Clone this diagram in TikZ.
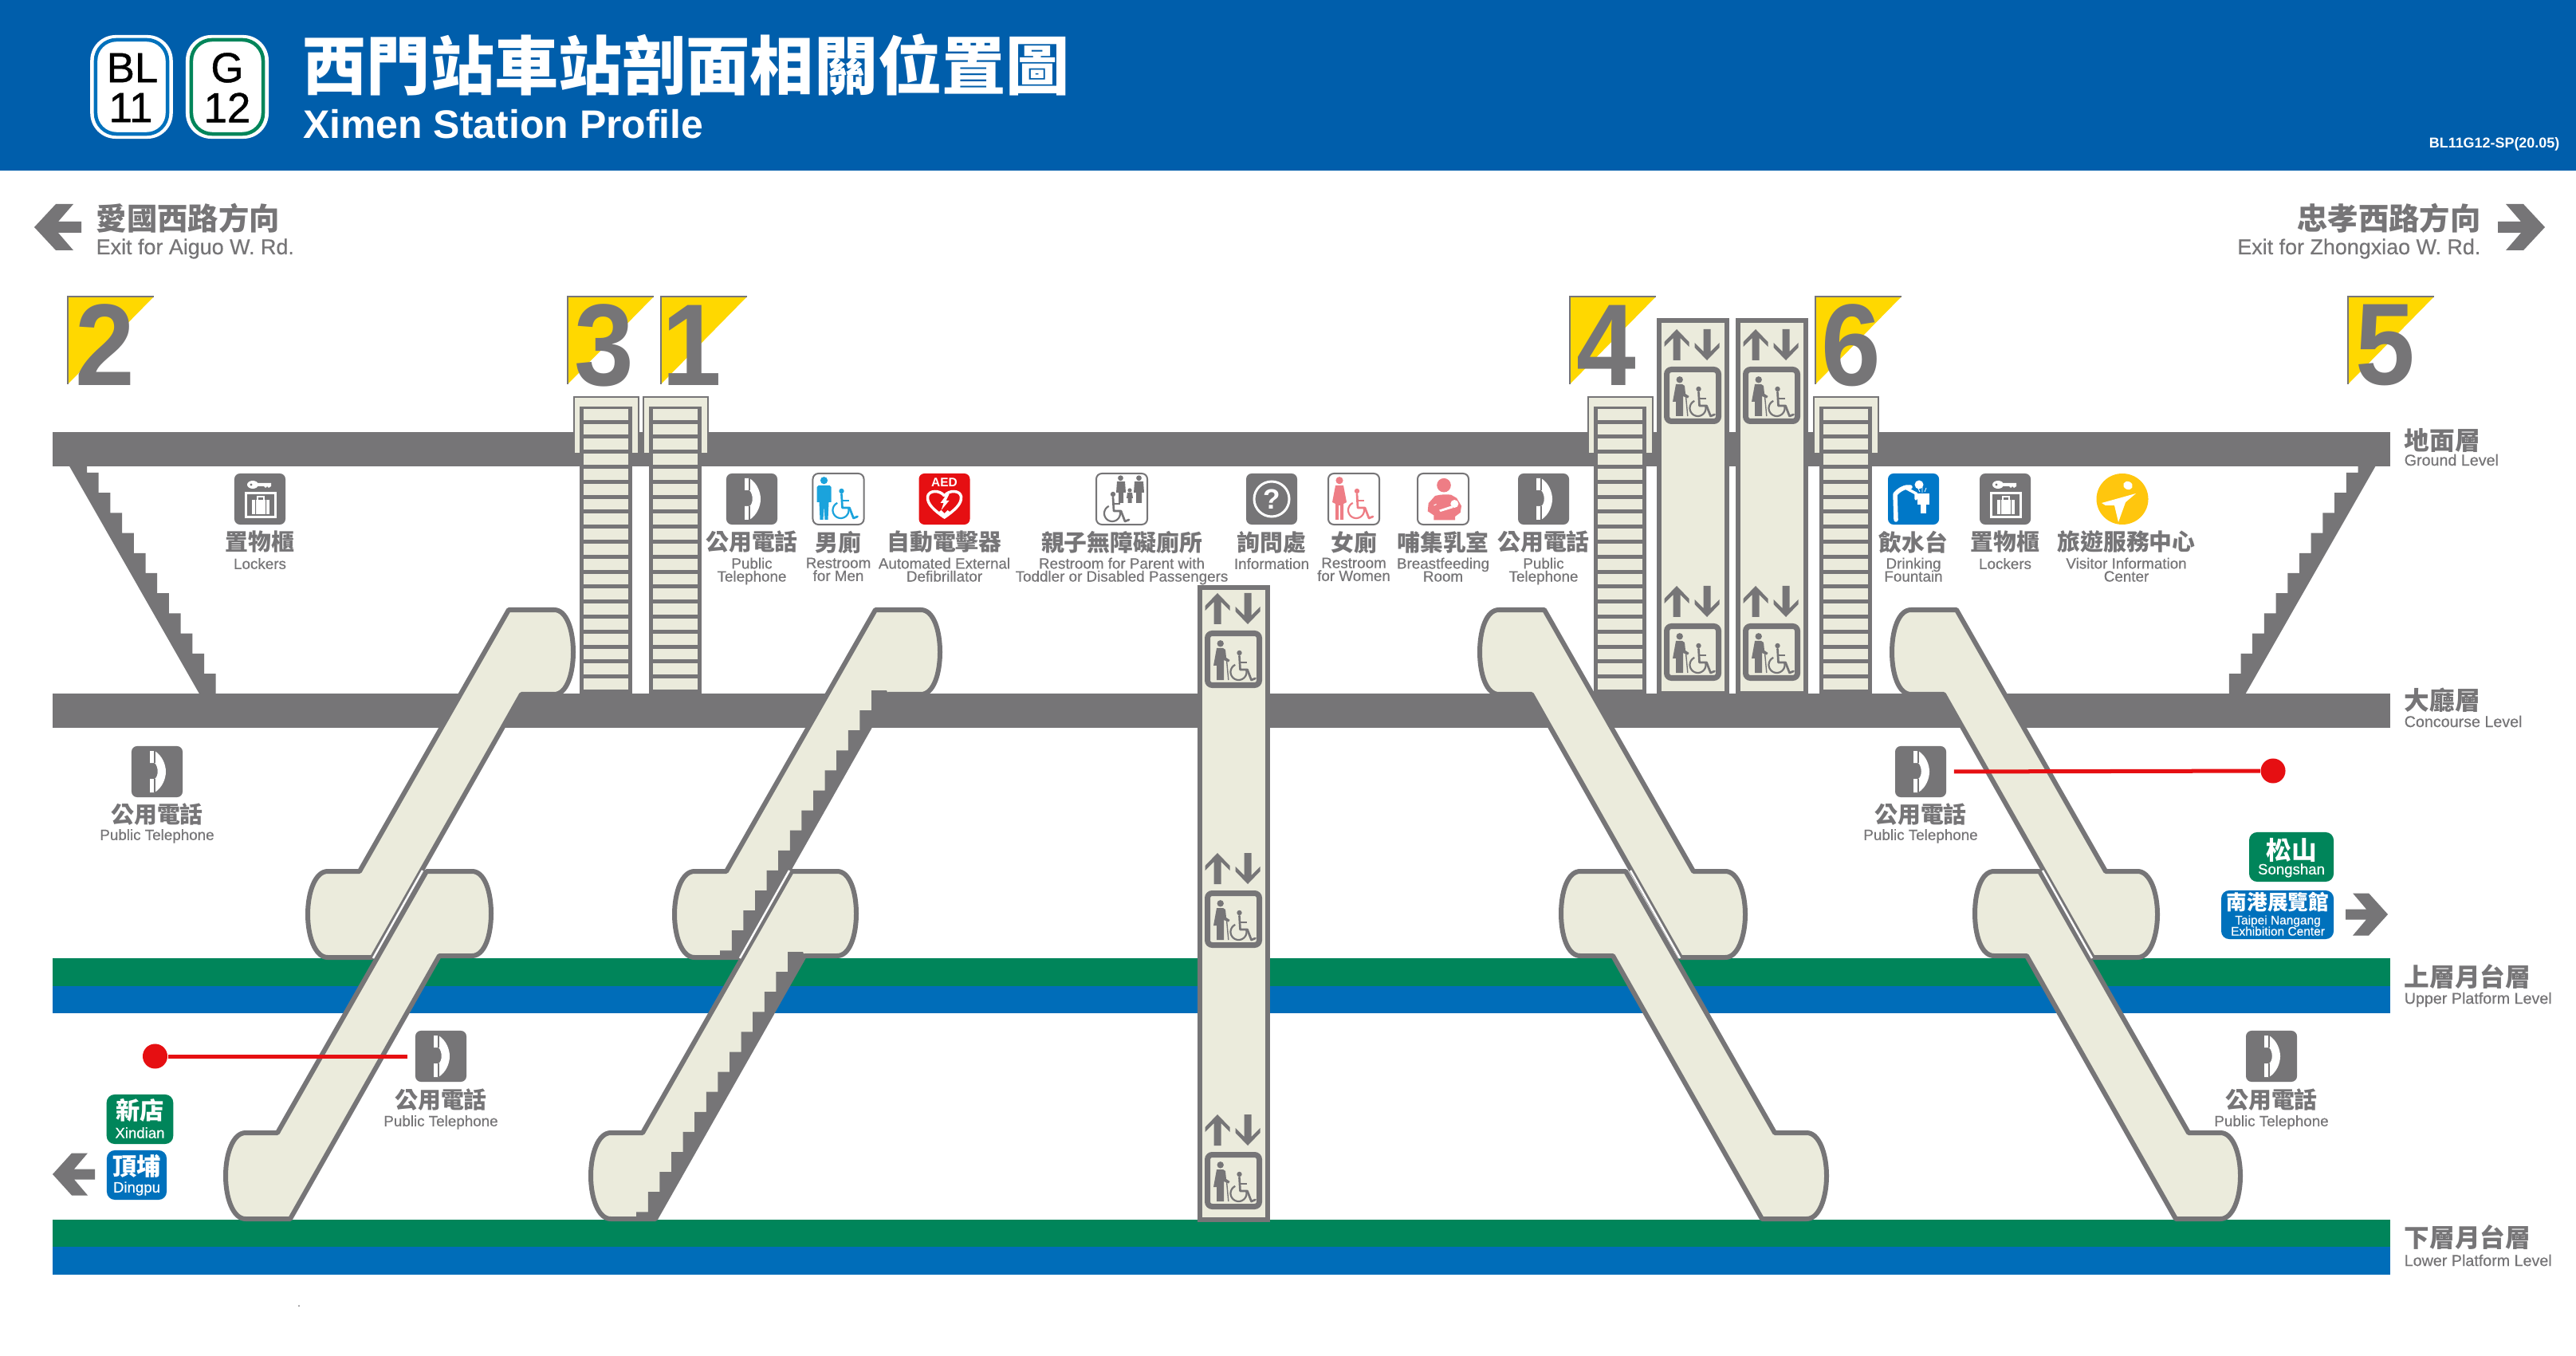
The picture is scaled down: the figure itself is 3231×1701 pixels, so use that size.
\documentclass[tikz,border=0pt]{standalone}
\usepackage{fontspec}
\setmainfont{Liberation Sans}
\newfontfamily\zhf{Noto Sans CJK TC}
\newfontfamily\enf[FakeBold=0.4]{Liberation Sans}
\newfontfamily\numf[FakeStretch=0.92]{Liberation Sans}
\newfontfamily\badgef[FakeBold=0.8]{Liberation Sans}
\definecolor{gr}{HTML}{767577}
\definecolor{cream}{HTML}{EBEBDC}
\definecolor{hblue}{HTML}{005EAB}
\definecolor{lblue}{HTML}{006DB9}
\definecolor{lgreen}{HTML}{00855A}
\definecolor{tblue}{HTML}{0071BC}
\definecolor{flagy}{HTML}{FFD800}
\definecolor{rd}{HTML}{E60F12}
\definecolor{mblue}{HTML}{1BA3DC}
\definecolor{pinkw}{HTML}{EE7D85}
\definecolor{fblue}{HTML}{0078C8}
\definecolor{vyel}{HTML}{FFC60E}
\newcommand{\wheelie}{%
  \fill (1,-24) circle[radius=3.2];
  \draw[line width=.027cm,line cap=round,line join=round] (1,-20) -- (2,-3) -- (11,-3) -- (16,10) -- (21,8);
  \draw[line width=.027cm] (1.5,-12) -- (10,-12);
  \draw[line width=.022cm] plot[smooth,samples=30,domain=-115:-375] ({10*cos(\x)},{10*sin(\x)});
}
\tikzset{
  x=.01cm,y=-.01cm,
  en/.style={font=\enf\fontsize{5.35}{4.6}\selectfont,text=gr,align=center,anchor=north,inner sep=0pt,execute at begin node={\rule{0pt}{4pt}}},
  zh/.style={font=\zhf\bfseries\fontsize{8.2}{9}\selectfont,text=gr,inner sep=0pt},
  lvz/.style={font=\zhf\bfseries\fontsize{9}{10}\selectfont,text=gr,inner sep=0pt,anchor=west},
  lve/.style={font=\enf\fontsize{5.6}{6}\selectfont,text=gr,inner sep=0pt,anchor=west},
  box/.style={minimum size=.64cm,inner sep=0pt,rounded corners=.07cm},
  dark/.style={box,fill=gr},
  pale/.style={box,fill=white,draw=gr,line width=.02cm},
  flagnum/.style={font=\numf\bfseries\fontsize{41.5}{41}\selectfont,text=gr,inner sep=0pt},
  tag/.style={inner sep=0pt,rounded corners=.1cm},
  tagz/.style={font=\zhf\bfseries\fontsize{8.2}{9}\selectfont,text=white,inner sep=0pt},
  tage/.style={font=\enf\fontsize{5.3}{5.3}\selectfont,text=white,inner sep=0pt},
  redl/.style={draw=rd,line width=.05cm},
  reddot/.style={circle,fill=rd,minimum size=.31cm,inner sep=0pt},
  escs/.style={fill=cream,draw=gr,line width=.06cm,line join=round},
  hood/.style={fill=cream,draw=gr,line width=.015cm},
  escband/.pic={
    \path[escs] (24,0) -- (81,0) -- (268,328) -- (308,328) .. controls (324,328) and (333,355) .. (333,382) .. controls (333,409) and (324,436) .. (308,436) -- (252,436) -- (65,106) -- (24,106) .. controls (8,106) and (0,80) .. (0,53) .. controls (0,26) and (8,0) .. (24,0) -- cycle;
  },
  escsteps/.pic={
    \fill[gr] (67,101) -- (86,101) \foreach \i in {1,...,13} { -- ++(0,25.1) -- ++(14.6,0) } -- (276,436) -- (252,436) -- (65,106) -- cycle;
  },
  escgap/.pic={
    \draw[white,line width=.025cm] (189,327) -- (251,437);
  },
  flag/.pic={
    \fill[flagy] (0,0) -- (108,0) -- (0,110) -- cycle;
    \draw[gr,line width=.018cm] (108,0) -- (0,0) -- (0,110);
  },
  ladder/.pic={
    \fill[gr] (0,0) rectangle (66,360);
    \foreach \k in {0,...,18} { \fill[cream] (5,{355-18.8*\k}) rectangle (61,{341.2-18.8*\k}); }
  },
  chevron/.pic={
    \fill[gr] (0,0) -- (-27,-29) -- (-49,-29) -- (-30,-7) -- (-59,-7) -- (-59,7) -- (-30,7) -- (-49,29) -- (-27,29) -- cycle;
  },
  chevronsmall/.pic={
    \fill[gr] (0,0) -- (-24,-26.5) -- (-44,-26.5) -- (-27,-6.5) -- (-53,-6.5) -- (-53,6.5) -- (-27,6.5) -- (-44,26.5) -- (-24,26.5) -- cycle;
  },
  liftsign/.pic={
    \fill[gr] (16,-47) -- (31.5,-31) -- (31.5,-25) -- (20.5,-36) -- (20.5,-8) -- (11.5,-8) -- (11.5,-36) -- (.5,-25) -- (.5,-31) -- cycle;
    \fill[gr] (54,-8) -- (69.5,-24) -- (69.5,-30) -- (58.5,-19) -- (58.5,-47) -- (49.5,-47) -- (49.5,-19) -- (38.5,-30) -- (38.5,-24) -- cycle;
    \draw[gr,line width=.07cm,rounded corners=.06cm] (3.5,3.5) rectangle (68.5,68.5);
    \fill[gr] (19.7,16.3) circle[radius=4.2];
    \fill[gr] (15,22) -- (23,22) -- (26,24) -- (27,34) -- (31.5,37) -- (30,39.5) -- (24,37) -- (24,62) -- (15,62) -- (15,44) -- (11,44) -- cycle;
    \draw[gr,line width=.014cm] (27.5,37) -- (29.8,62);
    \begin{scope}[shift={(42.5,52)},gr]\wheelie\end{scope}
  },
  telglyph/.pic={
    \fill[white] (-9,-26) -- (-3,-26) .. controls (7,-20) and (11,-8) .. (11,0) .. controls (11,8) and (7,20) .. (-3,26) -- (-9,26) -- (-9,9) -- (-3,9) .. controls (2,6) and (2,-6) .. (-3,-11) -- (-9,-11) -- cycle;
    \draw[gr,line width=.012cm] (-3,-26) -- (-3,-11) (-3,9) -- (-3,26);
  },
  lockerglyph/.pic={
    \fill[white] (-9,-18) ellipse[x radius=7,y radius=5];
    \fill[white] (-4,-20) -- (14,-20) -- (14,-16) -- (11,-14) -- (9,-16) -- (7,-14) -- (5,-16) -- (-4,-16) -- cycle;
    \fill[gr] (-11,-18) circle[radius=1.6];
    \draw[white,line width=.03cm] (-17.5,-7.5) rectangle (19,22.5);
    \fill[white] (-10,1) rectangle (12,19);
    \draw[white,line width=.012cm] (-3,1) -- (-3,-3) -- (5,-3) -- (5,1);
    \fill[gr] (-6,1) rectangle (-5,19) (7,1) rectangle (8,19);
  },
  manglyph/.pic={
    \fill[#1] (-18,-23.3) circle[radius=4.6];
    \fill[#1] (-25,-17) -- (-11,-17) -- (-9,-15) -- (-9,4) -- (-12,4) -- (-13,26) -- (-17,26) -- (-18,8) -- (-19,26) -- (-23,26) -- (-24,4) -- (-27,4) -- (-27,-15) -- cycle;
    \begin{scope}[shift={(3,14)},#1]\wheelie\end{scope}
  },
  womanglyph/.pic={
    \fill[#1] (-18,-23.3) circle[radius=4.6];
    \fill[#1] (-23,-17) -- (-13,-17) -- (-9,4) -- (-13,6) -- (-13,26) -- (-17,26) -- (-17,8) -- (-19,8) -- (-19,26) -- (-23,26) -- (-23,6) -- (-27,4) -- cycle;
    \begin{scope}[shift={(3,14)},#1]\wheelie\end{scope}
  },
  familyglyph/.pic={
    \fill[gr] (-1.5,-26.3) circle[radius=3.4] (21.5,-26.3) circle[radius=3.4] (10,-11) circle[radius=2.6];
    \fill[gr] (-6,-22) -- (4,-22) -- (5,-8) -- (2,-8) -- (2,5) -- (-4,5) -- (-4,-8) -- (-7,-8) -- cycle;
    \fill[gr] (16,-22) -- (27,-22) -- (28,-8) -- (25,-8) -- (25,5) -- (18,5) -- (18,-8) -- (15,-8) -- cycle;
    \fill[gr] (7,-8) -- (13,-8) -- (14,-1) -- (12.5,-1) -- (12.5,5) -- (7.5,5) -- (7.5,-1) -- (6,-1) -- cycle;
    \begin{scope}[shift={(-12,18)},gr]\wheelie\end{scope}
  },
  infoglyph/.pic={
    \draw[white,line width=.03cm] (0,0) circle[radius=22];
    \node[font=\bfseries\fontsize{10}{10}\selectfont,text=white,inner sep=0pt] (infoq) at (0,0) {?};
  },
  nurseglyph/.pic={
    \fill[pinkw] (1,-17.3) circle[radius=8.8];
    \fill[pinkw] (-10,-4) .. controls (-3,-6) and (5,-6) .. (10,-5.3) -- (17,-1.3) -- (23,8.7) -- (21.7,17) -- (15,22) -- (15,26.3) -- (-11.7,26.3) -- (-11.7,20.3) -- (-19.3,15.3) -- (-18.3,5.3) -- cycle;
    \fill[white] (14.3,6) circle[radius=5];
    \fill[white] (-5,13.7) -- (10,8.7) -- (13,11) -- (-3.3,16) -- cycle;
    \draw[white,line width=.01cm] (-11.5,8) -- (-8.5,6.5);
  },
  aedglyph/.pic={
    \node[font=\bfseries\fontsize{4.4}{4.4}\selectfont,text=white,inner sep=0pt] (aedt) at (0,-20.5) {AED};
    \draw[white,line width=.035cm,line join=round] (0,23) .. controls (-13,14) and (-22,6) .. (-21,-3) .. controls (-20,-11) and (-6,-12) .. (0,-4) .. controls (6,-12) and (20,-11) .. (21,-3) .. controls (22,6) and (13,14) .. (0,23) -- cycle;
    \fill[white] (3,-6) -- (-5,5) -- (-1,5) -- (-4,14) -- (6,2) -- (2,2) -- (6,-6) -- cycle;
    \fill[white] (-8,17) -- (0,25) -- (8,17) -- (4,14) -- (0,18) -- (-4,14) -- cycle;
  },
  fountainglyph/.pic={
    \draw[white,line width=.055cm,line cap=round,line join=round] (-22,26) -- (-23,-6) .. controls (-18,-12) and (-10,-16) .. (-4,-15);
    \fill[white] (7,-18) circle[radius=5.5];
    \draw[white,line width=.035cm,line cap=round] (-10,-14) -- (3,-7) -- (3,0);
    \fill[white] (5,-7) rectangle (20,7);
    \fill[white] (9,7) rectangle (16,18);
    \draw[white,line width=.008cm] (11,-8) -- (11,-15) (8,-9) -- (6,-13) (14,-9) -- (16,-14);
  },
  visitorglyph/.pic={
    \fill[vyel] (0,0) ellipse[x radius=32.5,y radius=32];
    \fill[white,rotate around={-25:(7,-17)}] (7,-17) ellipse[x radius=6,y radius=5];
    \fill[white] (-26,5) -- (17,-7) -- (4,4) -- (-5,29) -- (-10,8) -- (-21,8) -- cycle;
  },
}
\begin{document}
\begin{tikzpicture}
\lineskiplimit=-5pt\relax
\useasboundingbox (0,0) rectangle (3231,1701);
\fill[white] (0,0) rectangle (3231,1701);
% header
\fill[hblue] (0,0) rectangle (3231,214);
\node[minimum width=1.035cm,minimum height=1.30cm,rounded corners=.32cm,fill=white,inner sep=0pt] (bo) at (165,109) {};
\node[minimum width=.90cm,minimum height=1.18cm,rounded corners=.26cm,fill=white,draw=tblue,line width=.045cm,inner sep=0pt] (bi) at (165,109) {};
\node[minimum width=1.04cm,minimum height=1.30cm,rounded corners=.32cm,fill=white,inner sep=0pt] (go) at (285,109) {};
\node[minimum width=.90cm,minimum height=1.18cm,rounded corners=.26cm,fill=white,draw=lgreen,line width=.045cm,inner sep=0pt] (gi) at (285,109) {};
\node[font=\badgef\fontsize{15}{15}\selectfont,inner sep=0pt] (bl) at (166,85) {BL};
\node[font=\badgef\fontsize{15}{15}\selectfont,inner sep=0pt] (bln) at (164,135) {11};
\node[font=\badgef\fontsize{15}{15}\selectfont,inner sep=0pt] (g) at (285,85) {G};
\node[font=\badgef\fontsize{15}{15}\selectfont,inner sep=0pt] (gn) at (285,135) {12};
\node[font=\zhf\bfseries\fontsize{22.8}{23}\selectfont,text=white,anchor=west,inner sep=0pt] (title) at (379,81) {西門站車站剖面相關位置圖};
\node[font=\bfseries\fontsize{14.2}{14.3}\selectfont,text=white,anchor=base west,inner sep=0pt] (titleen) at (379.5,174) {Ximen Station Profile};
\node[font=\bfseries\fontsize{5.1}{5.1}\selectfont,text=white,anchor=east,inner sep=0pt] (code) at (3211,181) {BL11G12-SP(20.05)};
% direction labels
\pic[xscale=-1] at (43,285) {chevron};
\node[font=\zhf\bfseries\fontsize{10.9}{12}\selectfont,text=gr,anchor=west,inner sep=0pt] (dirl) at (120,274) {愛國西路方向};
\node[font=\enf\fontsize{7.65}{8}\selectfont,text=gr,anchor=base west,inner sep=0pt] (dirle) at (120,319) {Exit for Aiguo W. Rd.};
\pic at (3192,285) {chevron};
\node[font=\zhf\bfseries\fontsize{10.9}{12}\selectfont,text=gr,anchor=east,inner sep=0pt] (dirr) at (3112,274) {忠孝西路方向};
\node[font=\enf\fontsize{7.65}{8}\selectfont,text=gr,anchor=base east,inner sep=0pt] (dirre) at (3112,319) {Exit for Zhongxiao W. Rd.};
% level bars
\fill[gr] (66,542) rectangle (2998,585);
\fill[gr] (66,870) rectangle (2998,913);
\fill[lgreen] (66,1202) rectangle (2998,1236.5);
\fill[lblue] (66,1236.5) rectangle (2998,1270.5);
\fill[lgreen] (66,1530) rectangle (2998,1564);
\fill[lblue] (66,1564) rectangle (2998,1599);
% level labels
\node[lvz] (l1z) at (3015,552) {地面層};
\node[lve] (l1e) at (3015,577) {Ground Level};
\node[lvz] (l2z) at (3015,878) {大廳層};
\node[lve] (l2e) at (3015,905) {Concourse Level};
\node[lvz] (l3z) at (3015,1225) {上層月台層};
\node[lve] (l3e) at (3015,1254) {Upper Platform Level};
\node[lvz] (l4z) at (3015,1552) {下層月台層};
\node[lve] (l4e) at (3015,1581) {Lower Platform Level};
% end stairs
\fill[gr] (86,583) -- (109,583) -- (109,593) \foreach \i in {1,...,11} { -- ++(14.7,0) -- ++(0,25.2) } -- (251,872) -- cycle;
\fill[gr] (2980.5,583) -- (2957.5,583) -- (2957.5,593) \foreach \i in {1,...,11} { -- ++(-14.7,0) -- ++(0,25.2) } -- (2815.5,872) -- cycle;
% flags and numerals
\pic at (85,372) {flag};
\pic at (712,372) {flag};
\pic at (829,372) {flag};
\pic at (1969,372) {flag};
\pic at (2277,372) {flag};
\pic at (2945,372) {flag};
\node[flagnum] (n2) at (132,433) {2};
\node[flagnum] (n3) at (757.5,433) {3};
\node[flagnum] (n1) at (868,433) {1};
\node[flagnum] (n4) at (2015,433) {4};
\node[flagnum] (n6) at (2322,433) {6};
\node[flagnum] (n5) at (2992,433) {5};
% fixed stairs
\foreach \hx in {720,807,1992,2275} {
  \path[hood] (\hx,498) rectangle ({\hx+81},569);
}
\pic at (727,510) {ladder};
\pic at (814,510) {ladder};
\pic at (1999,510) {ladder};
\pic at (2282,510) {ladder};
% gate lifts
\draw[fill=cream,draw=gr,line width=.06cm] (2081,402) rectangle (2166,870);
\draw[fill=cream,draw=gr,line width=.06cm] (2180,402) rectangle (2265,870);
\pic at (2087,460) {liftsign};
\pic at (2087,782) {liftsign};
\pic at (2186,460) {liftsign};
\pic at (2186,782) {liftsign};
% escalators left-leaning
\pic[xscale=-1] at (719,765) {escband};
\pic[xscale=-1] at (616,1093) {escband};
\pic[xscale=-1] at (719,765) {escgap};
\pic[xscale=-1] at (1179,765) {escband};
\pic[xscale=-1] at (1179,765) {escsteps};
\pic[xscale=-1] at (1074,1093) {escband};
\pic[xscale=-1] at (1074,1093) {escsteps};
\pic[xscale=-1] at (1179,765) {escgap};
% escalators right-leaning
\pic at (1856,765) {escband};
\pic at (1958,1093) {escband};
\pic at (1856,765) {escgap};
\pic at (2373,765) {escband};
\pic at (2477,1093) {escband};
\pic at (2373,765) {escgap};
% centre lift
\draw[fill=cream,draw=gr,line width=.06cm] (1505,737) rectangle (1590,1530);
\pic at (1511,791) {liftsign};
\pic at (1511,1117) {liftsign};
\pic at (1511,1445) {liftsign};
% icons row
\node[dark] (lock1) at (326,626) {};
\pic at (lock1) {lockerglyph};
\node[zh] (lock1z) at (326,680) {置物櫃};
\node[en] (lock1e) at (326,699) {Lockers};
\node[dark] (tel1) at (943,626) {};
\pic at (tel1) {telglyph};
\node[zh] (tel1z) at (943,680) {公用電話};
\node[en] (tel1e) at (943,699) {Public\\Telephone};
\node[pale] (men) at (1051.5,626) {};
\pic at (men) {manglyph=mblue};
\node[zh] (menz) at (1051.5,680) {男廁};
\node[en] (mene) at (1051.5,699) {Restroom\\for Men};
\node[box,fill=rd] (aed) at (1184.5,626) {};
\pic at (aed) {aedglyph};
\node[zh] (aedz) at (1184.5,680) {自動電擊器};
\node[en] (aede) at (1184.5,699) {Automated External\\Defibrillator};
\node[pale] (fam) at (1407,626) {};
\pic at (fam) {familyglyph};
\node[zh] (famz) at (1407,680) {親子無障礙廁所};
\node[en] (fame) at (1407,699) {Restroom for Parent with\\Toddler or Disabled Passengers};
\node[dark] (info) at (1595,626) {};
\pic at (info) {infoglyph};
\node[zh] (infoz) at (1595,680) {詢問處};
\node[en] (infoe) at (1595,699) {Information};
\node[pale] (wom) at (1698,626) {};
\pic at (wom) {womanglyph=pinkw};
\node[zh] (womz) at (1698,680) {女廁};
\node[en] (wome) at (1698,699) {Restroom\\for Women};
\node[pale] (nurse) at (1810,626) {};
\pic at (nurse) {nurseglyph};
\node[zh] (nursez) at (1810,680) {哺集乳室};
\node[en] (nursee) at (1810,699) {Breastfeeding\\Room};
\node[dark] (tel2) at (1936,626) {};
\pic at (tel2) {telglyph};
\node[zh] (tel2z) at (1936,680) {公用電話};
\node[en] (tel2e) at (1936,699) {Public\\Telephone};
\node[box,fill=fblue] (fount) at (2400,626) {};
\pic at (fount) {fountainglyph};
\node[zh] (fountz) at (2400,680) {飲水台};
\node[en] (founte) at (2400,699) {Drinking\\Fountain};
\node[dark] (lock2) at (2515,626) {};
\pic at (lock2) {lockerglyph};
\node[zh] (lock2z) at (2515,680) {置物櫃};
\node[en] (lock2e) at (2515,699) {Lockers};
\pic at (2662,626) {visitorglyph};
\node[zh] (visz) at (2667,680) {旅遊服務中心};
\node[en] (vise) at (2667,699) {Visitor Information\\Center};
% phones with leaders
\node[dark] (tel3) at (197,968) {};
\pic at (tel3) {telglyph};
\node[zh] (tel3z) at (197,1022) {公用電話};
\node[en] (tel3e) at (197,1039) {Public Telephone};
\node[dark] (tel4) at (2409,968) {};
\pic at (tel4) {telglyph};
\node[zh] (tel4z) at (2409,1022) {公用電話};
\node[en] (tel4e) at (2409,1039) {Public Telephone};
\node[dark] (tel5) at (553,1325) {};
\pic at (tel5) {telglyph};
\node[zh] (tel5z) at (553,1380) {公用電話};
\node[en] (tel5e) at (553,1398) {Public Telephone};
\node[dark] (tel6) at (2849,1325) {};
\pic at (tel6) {telglyph};
\node[zh] (tel6z) at (2849,1380) {公用電話};
\node[en] (tel6e) at (2849,1398) {Public Telephone};
\node[reddot] (dotr) at (2851,967) {};
\node[reddot] (dotl) at (194.5,1325) {};
\draw[redl,shorten <=.09cm] (tel4.east) -- (dotr);
\draw[redl,shorten <=.09cm] (tel5.west) -- (dotl);
% destination tags
\node[tag,fill=lgreen,minimum width=1.06cm,minimum height=.62cm] (song) at (2874,1075) {};
\node[tagz,font=\zhf\bfseries\fontsize{9}{9}\selectfont] (songz) at (2874,1066) {松山};
\node[tage] (songe) at (2874,1092) {Songshan};
\node[tag,fill=tblue,minimum width=1.41cm,minimum height=.61cm] (nan) at (2856.5,1147.5) {};
\node[tagz,font=\zhf\bfseries\fontsize{7.3}{8}\selectfont] (nanz) at (2857,1132) {南港展覽館};
\node[tage,font=\enf\fontsize{4.4}{4}\selectfont,align=center] (nane) at (2857,1161) {Taipei Nangang\\Exhibition Center};
\pic at (2995,1147) {chevronsmall};
\node[tag,fill=lgreen,minimum width=.835cm,minimum height=.62cm] (xin) at (175.5,1404) {};
\node[tagz,font=\zhf\bfseries\fontsize{8.6}{9}\selectfont] (xinz) at (175.5,1393) {新店};
\node[tage] (xine) at (175.5,1421) {Xindian};
\node[tag,fill=tblue,minimum width=.75cm,minimum height=.62cm] (ding) at (171.5,1474) {};
\node[tagz,font=\zhf\bfseries\fontsize{8.6}{9}\selectfont] (dingz) at (171.5,1463) {頂埔};
\node[tage] (dinge) at (171.5,1491) {Dingpu};
\pic[xscale=-1] at (66,1473) {chevronsmall};
\fill[gr] (375,1638) circle[radius=1];
\end{tikzpicture}
\end{document}
